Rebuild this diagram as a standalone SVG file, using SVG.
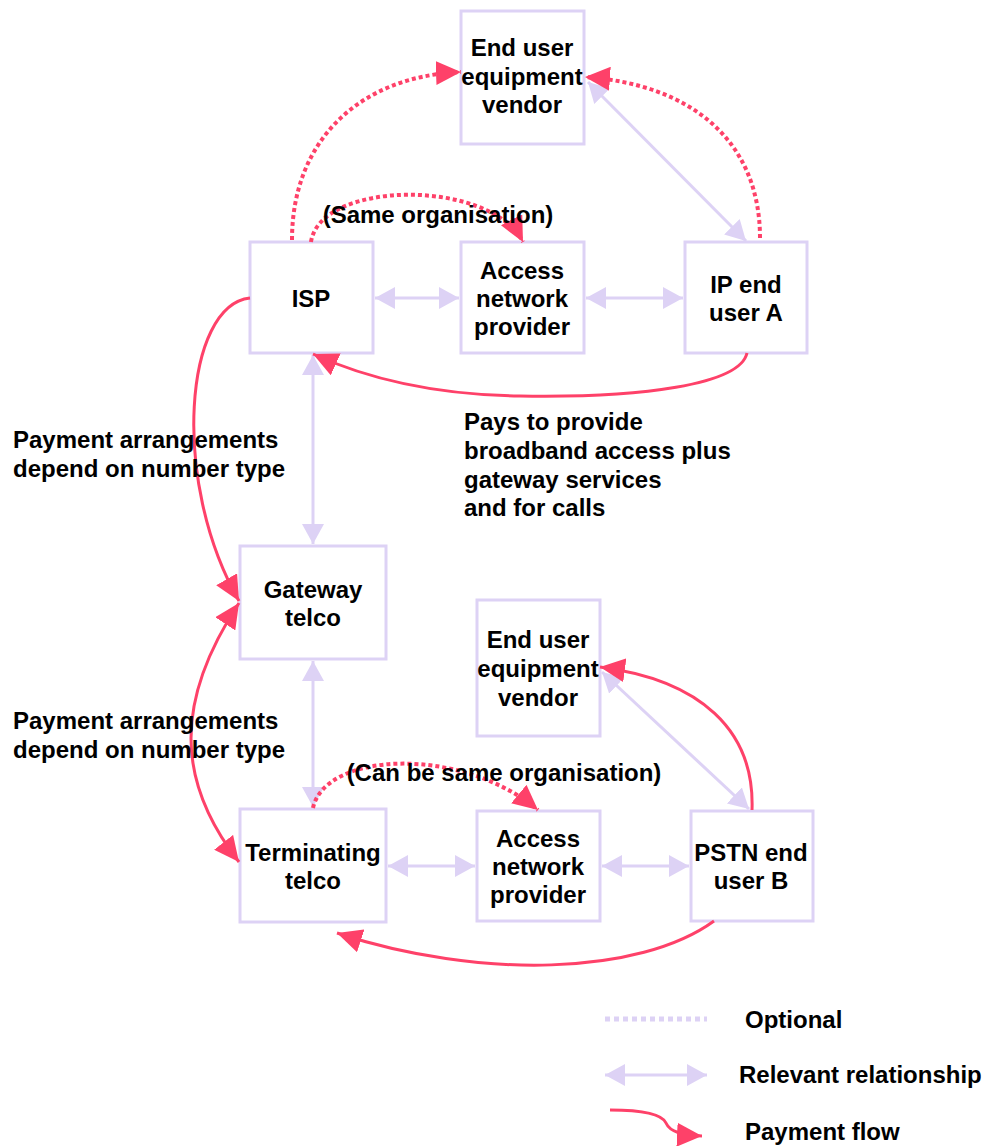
<svg xmlns="http://www.w3.org/2000/svg" width="985" height="1146" viewBox="0 0 985 1146">
  <defs>
    <style>
      .box { fill: #ffffff; stroke: #ddd2f5; stroke-width: 3; }
      .lbl { font-family: "Liberation Sans", Arial, sans-serif; font-weight: bold; font-size: 24px; fill: #000000; }
      .mid { text-anchor: middle; }
      .rel { fill: none; stroke: #ddd2f5; stroke-width: 3; marker-start: url(#lav-head); marker-end: url(#lav-head); }
      .pay { fill: none; stroke: #fe4169; stroke-width: 3; marker-end: url(#red-head); }
      .pay2 { marker-start: url(#red-head); }
      .opt { fill: none; stroke: #fe4169; stroke-width: 4; stroke-dasharray: 4 3; marker-end: url(#red-head); }
    </style>
    <marker id="red-head" viewBox="0 0 25 24" refX="25" refY="12" markerWidth="25" markerHeight="24" markerUnits="userSpaceOnUse" orient="auto-start-reverse">
      <path d="M0,0 L25,12 L0,24 z" fill="#fe4169"/>
    </marker>
    <marker id="lav-head" viewBox="0 0 20 22" refX="20" refY="11" markerWidth="20" markerHeight="22" markerUnits="userSpaceOnUse" orient="auto-start-reverse">
      <path d="M0,0 L20,11 L0,22 z" fill="#ddd2f5"/>
    </marker>
  </defs>

  <rect width="985" height="1146" fill="#ffffff"/>

  <!-- nodes -->
  <g id="eq-vendor-top">
    <rect class="box" x="461" y="11" width="123" height="133"/>
    <text class="lbl mid" x="522" y="56">End user</text>
    <text class="lbl mid" x="522" y="85">equipment</text>
    <text class="lbl mid" x="522" y="113">vendor</text>
  </g>
  <g id="isp">
    <rect class="box" x="250" y="242" width="123" height="111"/>
    <text class="lbl mid" x="311" y="307">ISP</text>
  </g>
  <g id="access-top">
    <rect class="box" x="461" y="242" width="123" height="111"/>
    <text class="lbl mid" x="522" y="279">Access</text>
    <text class="lbl mid" x="522" y="307">network</text>
    <text class="lbl mid" x="522" y="335">provider</text>
  </g>
  <g id="ip-user-a">
    <rect class="box" x="685" y="242" width="122" height="111"/>
    <text class="lbl mid" x="746" y="293">IP end</text>
    <text class="lbl mid" x="746" y="321">user A</text>
  </g>
  <g id="gateway-telco">
    <rect class="box" x="240" y="546" width="146" height="113"/>
    <text class="lbl mid" x="313" y="598">Gateway</text>
    <text class="lbl mid" x="313" y="626">telco</text>
  </g>
  <g id="eq-vendor-bottom">
    <rect class="box" x="477" y="600" width="123" height="136"/>
    <text class="lbl mid" x="538" y="648">End user</text>
    <text class="lbl mid" x="538" y="677">equipment</text>
    <text class="lbl mid" x="538" y="706">vendor</text>
  </g>
  <g id="terminating-telco">
    <rect class="box" x="240" y="809" width="146" height="113"/>
    <text class="lbl mid" x="313" y="861">Terminating</text>
    <text class="lbl mid" x="313" y="889">telco</text>
  </g>
  <g id="access-bottom">
    <rect class="box" x="477" y="811" width="123" height="110"/>
    <text class="lbl mid" x="538" y="847">Access</text>
    <text class="lbl mid" x="538" y="875">network</text>
    <text class="lbl mid" x="538" y="903">provider</text>
  </g>
  <g id="pstn-user-b">
    <rect class="box" x="691" y="811" width="122" height="110"/>
    <text class="lbl mid" x="751" y="861">PSTN end</text>
    <text class="lbl mid" x="751" y="889">user B</text>
  </g>

  <!-- connectors -->
  <g id="connectors">
    <!-- relevant relationships -->
    <line class="rel" x1="375" y1="298" x2="459" y2="298"/>
    <line class="rel" x1="586" y1="298" x2="683" y2="298"/>
    <line class="rel" x1="588" y1="82" x2="746" y2="241"/>
    <line class="rel" x1="313" y1="355" x2="313" y2="544"/>
    <line class="rel" x1="313" y1="661" x2="313" y2="807"/>
    <line class="rel" x1="388" y1="866" x2="475" y2="866"/>
    <line class="rel" x1="602" y1="866" x2="689" y2="866"/>
    <line class="rel" x1="602" y1="672" x2="749" y2="809"/>

    <!-- optional payments -->
    <path class="opt" d="M292,240 C292,140 360,76 461,72"/>
    <path class="opt" d="M760,238 C760,140 690,84 585,77"/>
    <path class="opt" d="M311,242 C320,180 490,178 523,242"/>
    <path class="opt" d="M313,808 C325,752 460,745 538,810"/>

    <!-- payment flows -->
    <path class="pay" d="M747,353 C740,385 640,398 520,396 C440,395 370,380 313,354"/>
    <path class="pay" d="M250,298 C185,305 170,480 239,601"/>
    <path class="pay pay2" d="M239,603 C175,700 175,780 239,862"/>
    <path class="pay" d="M714,921 C640,975 480,980 337,933"/>
    <path class="pay" d="M752,810 C755,730 700,680 600,667"/>
  </g>

  <!-- annotations -->
  <g id="notes">
    <text class="lbl mid" x="438" y="223">(Same organisation)</text>
    <text class="lbl" x="464" y="430">Pays to provide</text>
    <text class="lbl" x="464" y="459">broadband access plus</text>
    <text class="lbl" x="464" y="488">gateway services</text>
    <text class="lbl" x="464" y="516">and for calls</text>
    <text class="lbl" x="13" y="448">Payment arrangements</text>
    <text class="lbl" x="13" y="477">depend on number type</text>
    <text class="lbl" x="13" y="729">Payment arrangements</text>
    <text class="lbl" x="13" y="758">depend on number type</text>
    <text class="lbl mid" x="504" y="781">(Can be same organisation)</text>
  </g>

  <!-- legend -->
  <g id="legend">
    <line x1="605" y1="1019" x2="707" y2="1019" stroke="#ddd2f5" stroke-width="5" stroke-dasharray="5 4"/>
    <text class="lbl" x="745" y="1028">Optional</text>
    <line class="rel" x1="605" y1="1075" x2="707" y2="1075"/>
    <text class="lbl" x="739" y="1083">Relevant relationship</text>
    <path class="pay" d="M610,1110 C640,1110 662,1114 666,1123 C670,1132 682,1135 702,1136"/>
    <text class="lbl" x="745" y="1140">Payment flow</text>
  </g>
</svg>
